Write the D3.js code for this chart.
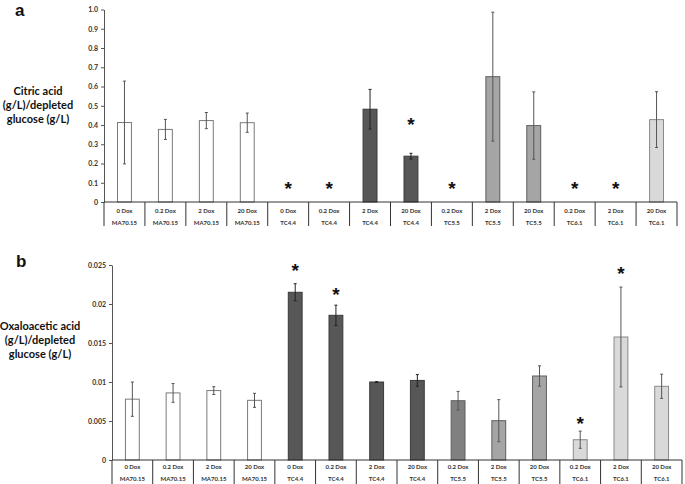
<!DOCTYPE html>
<html>
<head>
<meta charset="utf-8">
<script src="https://cdn.jsdelivr.net/npm/d3@7"></script>
<style>
	body { margin: 0; background: #fff; }
	svg { display: block; }
</style>
</head>
<body>
<svg id="chart" width="685" height="484"></svg>
<script>
// categories shared by both panels
var doses = ["0 Dox","0.2 Dox","2 Dox","20 Dox","0 Dox","0.2 Dox","2 Dox","20 Dox","0.2 Dox","2 Dox","20 Dox","0.2 Dox","2 Dox","20 Dox"];
var strains = ["MA70.15","MA70.15","MA70.15","MA70.15","TC4.4","TC4.4","TC4.4","TC4.4","TC5.5","TC5.5","TC5.5","TC6.1","TC6.1","TC6.1"];

// panel a: citric acid
var citricMean = [0.413, 0.377, 0.423, 0.412, 0, 0, 0.482, 0.238, 0, 0.651, 0.397, 0, 0, 0.428];
var citricErr = [0.215, 0.052, 0.042, 0.05, 0, 0, 0.103, 0.015, 0, 0.335, 0.175, 0, 0, 0.145];
var citricStar = [null, null, null, null, 0.093, 0.093, null, 0.425, 0.093, null, null, 0.093, 0.093, null];
var citricTicks = [0, 0.1, 0.2, 0.3, 0.4, 0.5, 0.6, 0.7, 0.8, 0.9, 1.0];

// panel b: oxaloacetic acid
var oxalMean = [0.0078, 0.0086, 0.0089, 0.00765, 0.0215, 0.01855, 0.0100, 0.0102, 0.0076, 0.00504, 0.01077, 0.0026, 0.01577, 0.00945];
var oxalErr = [0.0022, 0.0012, 0.0005, 0.0009, 0.0011, 0.0013, 0.00005, 0.00075, 0.0012, 0.0027, 0.0013, 0.0011, 0.0064, 0.00155];
var oxalStar = [null, null, null, null, 0.0248, 0.0217, null, null, null, null, null, 0.0052, 0.0244, null];
var oxalTicks = [0, 0.005, 0.01, 0.015, 0.02, 0.025];

var svg = d3.select("#chart");

function barFill(i) {
	var s = strains[i];
	if (s == "MA70.15") return "#ffffff";
	if (s == "TC4.4") return "#575757";
	if (s == "TC5.5") return doses[i] == "0.2 Dox" ? "#808080" : "#a5a5a5";
	return "#d9d9d9";
}
function barStroke(i) {
	var s = strains[i];
	if (s == "MA70.15") return "#7a7a7a";
	if (s == "TC4.4") return "#3a3a3a";
	if (s == "TC5.5") return "#5e5e5e";
	return "#8a8a8a";
}

drawPanel({
	letter: "a", letterX: 15, letterY: 16,
	label: ["Citric acid", "(g/L)/depleted", "glucose (g/L)"], labelX: 38, labelY: 105,
	mean: citricMean, err: citricErr, star: citricStar,
	ticks: citricTicks, domain: [0, 1],
	fmt: function(d) { return d === 0 ? "0" : d.toFixed(1); },
	x0: 104, x1: 677, top: 9.5, bottom: 202, lab1: 210.5, lab2: 222.5, sepEnd: 226
});

drawPanel({
	letter: "b", letterX: 16, letterY: 267,
	label: ["Oxaloacetic acid", "(g/L)/depleted", "glucose (g/L)"], labelX: 40, labelY: 340,
	mean: oxalMean, err: oxalErr, star: oxalStar,
	ticks: oxalTicks, domain: [0, 0.025],
	fmt: function(d) { return d === 0 ? "0" : String(+d.toFixed(3)); },
	x0: 112, x1: 682, top: 265, bottom: 460, lab1: 467, lab2: 479, sepEnd: 484
});

function drawPanel(p) {
	var g = svg.append("g");
	var idx = d3.range(doses.length);

	var x = d3.scaleBand()
		.domain(idx)
		.range([p.x0, p.x1]);
	var y = d3.scaleLinear()
		.domain(p.domain)
		.range([p.bottom, p.top]);
	var bw = x.bandwidth() * 0.34;

	g.append("text")
		.attr("x", p.letterX)
		.attr("y", p.letterY)
		.attr("font-family", "Liberation Sans, Arial, sans-serif")
		.attr("font-weight", "bold")
		.attr("font-size", 17)
		.attr("fill", "#111")
		.text(p.letter);

	g.append("text")
		.attr("font-family", "Lato, Calibri, sans-serif")
		.attr("font-weight", "bold")
		.attr("font-size", 11)
		.attr("fill", "#111")
		.attr("text-anchor", "middle")
		.selectAll("tspan")
		.data(p.label)
		.enter().append("tspan")
			.attr("x", p.labelX)
			.attr("y", function(d, i) { return p.labelY + (i - 1) * 14 + 4; })
			.text(function(d) { return d; });

	// y axis
	var yAxis = g.append("g")
		.attr("transform", "translate(" + p.x0 + ",0)")
		.call(d3.axisLeft(y).tickValues(p.ticks).tickFormat(p.fmt).tickSize(3).tickSizeOuter(0));
	yAxis.select(".domain").attr("stroke", "#555");
	yAxis.selectAll(".tick line").attr("stroke", "#555");
	yAxis.selectAll(".tick text")
		.attr("font-family", "Lato, Calibri, sans-serif")
		.attr("font-weight", "bold")
		.attr("font-size", 7)
		.attr("fill", "#333")
		.attr("x", -6);

	// bars
	g.selectAll(".bar")
		.data(idx.filter(function(i) { return p.mean[i] > 0; }))
		.enter().append("rect")
			.attr("class", "bar")
			.attr("x", function(i) { return x(i) + (x.bandwidth() - bw) / 2; })
			.attr("y", function(i) { return y(p.mean[i]); })
			.attr("width", bw)
			.attr("height", function(i) { return y(0) - y(p.mean[i]); })
			.attr("fill", barFill)
			.attr("stroke", barStroke)
			.attr("stroke-width", 1);

	// error bars
	var eb = g.selectAll(".err")
		.data(idx.filter(function(i) { return p.mean[i] > 0; }))
		.enter().append("g")
			.attr("class", "err")
			.attr("stroke", function(i) { return strains[i] == "TC4.4" ? "#222" : "#555"; })
			.attr("stroke-width", 1);
	eb.append("line")
		.attr("x1", function(i) { return x(i) + x.bandwidth() / 2; })
		.attr("x2", function(i) { return x(i) + x.bandwidth() / 2; })
		.attr("y1", function(i) { return y(p.mean[i] - p.err[i]); })
		.attr("y2", function(i) { return y(p.mean[i] + p.err[i]); });
	[1, -1].forEach(function(sg) {
		eb.append("line")
			.attr("x1", function(i) { return x(i) + x.bandwidth() / 2 - 1.5; })
			.attr("x2", function(i) { return x(i) + x.bandwidth() / 2 + 1.5; })
			.attr("y1", function(i) { return y(p.mean[i] + sg * p.err[i]); })
			.attr("y2", function(i) { return y(p.mean[i] + sg * p.err[i]); });
	});

	// significance stars
	g.selectAll(".star")
		.data(idx.filter(function(i) { return p.star[i] != null; }))
		.enter().append("text")
			.attr("class", "star")
			.attr("x", function(i) { return x(i) + x.bandwidth() / 2; })
			.attr("y", function(i) { return y(p.star[i]) + 10.5; })
			.attr("text-anchor", "middle")
			.attr("font-family", "Liberation Sans, Arial, sans-serif")
			.attr("font-weight", "bold")
			.attr("font-size", 19)
			.attr("fill", "#111")
			.text("*");

	// category axis with table-like separators
	g.append("line")
		.attr("x1", p.x0).attr("x2", p.x1)
		.attr("y1", p.bottom).attr("y2", p.bottom)
		.attr("stroke", "#333").attr("stroke-width", 1);

	g.selectAll(".sep")
		.data(idx.concat([doses.length]))
		.enter().append("line")
			.attr("class", "sep")
			.attr("x1", function(i) { return i < doses.length ? x(i) : p.x1; })
			.attr("x2", function(i) { return i < doses.length ? x(i) : p.x1; })
			.attr("y1", p.bottom)
			.attr("y2", p.sepEnd)
			.attr("stroke", "#333")
			.attr("stroke-width", 1);

	var cat = g.selectAll(".cat")
		.data(idx)
		.enter().append("g")
			.attr("class", "cat")
			.attr("font-family", "Lato, Calibri, sans-serif")
			.attr("font-weight", "bold")
			.attr("font-size", 6)
			.attr("fill", "#333")
			.attr("text-anchor", "middle");
	cat.append("text")
		.attr("x", function(i) { return x(i) + x.bandwidth() / 2; })
		.attr("y", p.lab1 + 2)
		.text(function(i) { return doses[i]; });
	cat.append("text")
		.attr("x", function(i) { return x(i) + x.bandwidth() / 2; })
		.attr("y", p.lab2 + 2)
		.text(function(i) { return strains[i]; });
}
</script>
</body>
</html>
